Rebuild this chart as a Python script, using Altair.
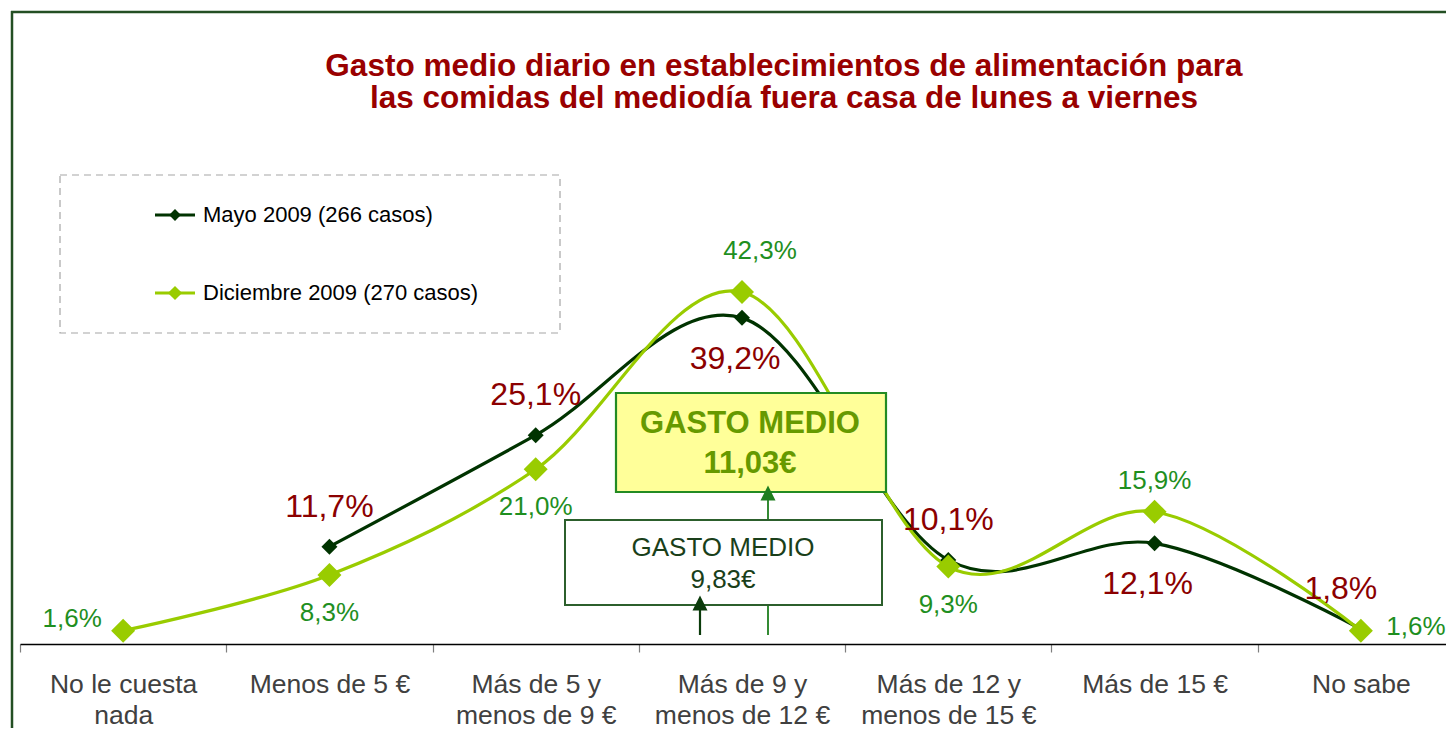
import altair as alt
import pandas as pd

# ---------------- data ----------------
categories = ["No le cuesta nada", "Menos de 5 €", "Más de 5 y menos de 9 €",
              "Más de 9 y menos de 12 €", "Más de 12 y menos de 15 €",
              "Más de 15 €", "No sabe"]
series = ["Mayo 2009 (266 casos)", "Diciembre 2009 (270 casos)"]
mayo = [None, 11.7, 25.1, 39.2, 10.1, 12.1, 1.8]
diciembre = [1.6, 8.3, 21.0, 42.3, 9.3, 15.9, 1.6]
title_lines = ["Gasto medio diario en establecimientos de alimentación para",
               "las comidas del mediodía fuera casa de lunes a viernes"]
gasto_dic = ["GASTO MEDIO", "11,03€"]
gasto_mayo = ["GASTO MEDIO", "9,83€"]

# where each value label sits relative to its point
mayo_place = [None, "N", "N", "S", "N", "S", "NW"]
dic_place = ["W", "S", "S", "NE", "S", "N", "E"]

# ---------------- styles ----------------
FONT = "Liberation Sans"
MAYO_C = "#003300"
DIC_C = "#99CC00"
MAYO_LBL = "#8B0000"
DIC_LBL = "#1F8F1F"
TITLE_C = "#990000"
FRAME_C = "#234F23"

offsets = {
    series[0]: {"N": (0, -40), "S": (-7, 41), "NW": (-20, -40)},
    series[1]: {"W": (-51, -12), "S": (0, 38), "NE": (18, -41), "N": (0, -31), "E": (55, -4)},
}
label_size = {series[0]: 32, series[1]: 26}
label_color = {series[0]: MAYO_LBL, series[1]: DIC_LBL}

rows = []
for i, c in enumerate(categories):
    if mayo[i] is not None:
        rows.append({"category": c, "series": series[0], "value": mayo[i], "place": mayo_place[i]})
    rows.append({"category": c, "series": series[1], "value": diciembre[i], "place": dic_place[i]})
df = pd.DataFrame(rows)

one = pd.DataFrame({"k": [0]})

xenc = alt.X(
    "category:N", sort=categories,
    scale=alt.Scale(type="band", paddingInner=0, paddingOuter=0, range=[0, 1444]),
    axis=alt.Axis(
        title=None, labelAngle=0, labelFont=FONT, labelFontSize=26.5,
        labelColor="#404040", labelLineHeight=31, labelPadding=19,
        labelLimit=500, labelOverlap=False, labelFlush=False,
        tickBand="extent", tickSize=8, tickColor="#7F7F7F", tickWidth=1.2,
        domainColor="#000000", domainWidth=1.6,
        labelExpr="!isString(datum.value) ? '' : "
                  "datum.value == 'No le cuesta nada' ? ['No le cuesta', 'nada'] : "
                  "split(replace(datum.value, ' y menos', ' y|menos'), '|')",
    ),
)
yenc = alt.Y("value:Q", scale=alt.Scale(domain=[0, 75]), axis=None)

base = alt.Chart(df).encode(x=xenc, y=yenc)

layers = []

# frame
layers.append(alt.Chart(one).mark_rule(color=FRAME_C, strokeWidth=2.5).encode(
    x=alt.value(-8), y=alt.value(-9), y2=alt.value(720)))
layers.append(alt.Chart(one).mark_rule(color=FRAME_C, strokeWidth=2.5).encode(
    x=alt.value(-9), x2=alt.value(1440), y=alt.value(-8)))

# title
for line, ty in zip(title_lines, [56, 88]):
    layers.append(alt.Chart(one).mark_text(
        font=FONT, fontSize=31.5, fontWeight="bold", color=TITLE_C, align="center",
        baseline="alphabetic").encode(
        x=alt.value(764), y=alt.value(ty), text=alt.value(line)))

# legend (drawn)
layers.append(alt.Chart(one).mark_rect(
    fill="#FFFFFF", fillOpacity=0, stroke="#A6A6A6", strokeDash=[7, 5], strokeWidth=1.2).encode(
    x=alt.value(40), x2=alt.value(540), y=alt.value(155), y2=alt.value(313)))
for s, col, ly, sz in [(series[0], MAYO_C, 195, 140), (series[1], DIC_C, 273, 200)]:
    layers.append(alt.Chart(one).mark_rule(color=col, strokeWidth=3).encode(
        x=alt.value(135), x2=alt.value(175), y=alt.value(ly)))
    layers.append(alt.Chart(one).mark_point(shape="diamond", filled=True, opacity=1,
                                            color=col, size=sz).encode(
        x=alt.value(155), y=alt.value(ly)))
    layers.append(alt.Chart(one).mark_text(font=FONT, fontSize=22, color="#000000",
                                           align="left", baseline="middle").encode(
        x=alt.value(183), y=alt.value(ly), text=alt.value(s)))

# lines & points
for s, col in [(series[0], MAYO_C), (series[1], DIC_C)]:
    layers.append(base.transform_filter(alt.datum.series == s).mark_line(
        color=col, strokeWidth=3.2, interpolate="cardinal"))
for s, col, sz in [(series[0], MAYO_C, 256), (series[1], DIC_C, 576)]:
    layers.append(base.transform_filter(alt.datum.series == s).mark_point(
        shape="diamond", filled=True, opacity=1, color=col, size=sz))

# arrows (shafts)
layers.append(alt.Chart(one).mark_rule(color="#0B3B0B", strokeWidth=2.2).encode(
    x=alt.value(680), y=alt.value(615), y2=alt.value(588)))
layers.append(alt.Chart(one).mark_rule(color="#1E7E1E", strokeWidth=1.8).encode(
    x=alt.value(748), y=alt.value(615), y2=alt.value(478)))

# boxes
layers.append(alt.Chart(one).mark_rect(fill="#FFFFFF", stroke="#2C5F2C", strokeWidth=2).encode(
    x=alt.value(545), x2=alt.value(862), y=alt.value(500), y2=alt.value(585)))
layers.append(alt.Chart(one).mark_rect(fill="#FFFF99", stroke="#238B23", strokeWidth=2.2).encode(
    x=alt.value(596), x2=alt.value(866), y=alt.value(373), y2=alt.value(472)))

# arrow heads
head = "M0,-1L1,1L-1,1Z"
layers.append(alt.Chart(one).mark_point(shape=head, filled=True, opacity=1, color="#0B3B0B",
                                        size=225).encode(x=alt.value(680), y=alt.value(583)))
layers.append(alt.Chart(one).mark_point(shape=head, filled=True, opacity=1, color="#1E7E1E",
                                        size=225).encode(x=alt.value(748), y=alt.value(473)))

# box texts
layers.append(alt.Chart(one).mark_text(font=FONT, fontSize=31, fontWeight="bold",
                                       color="#669900", align="center", baseline="middle",
                                       lineHeight=40).encode(
    x=alt.value(730), y=alt.value(404), text=alt.value(gasto_dic)))
layers.append(alt.Chart(one).mark_text(font=FONT, fontSize=26, color="#1A3F1A",
                                       align="center", baseline="middle",
                                       lineHeight=32).encode(
    x=alt.value(703), y=alt.value(528), text=alt.value(gasto_mayo)))

# value labels
for s in series:
    for place, (dx, dy) in offsets[s].items():
        layers.append(
            base.transform_filter((alt.datum.series == s) & (alt.datum.place == place))
            .transform_calculate(lbl="replace(format(datum.value, '.1f'), '.', ',') + '%'")
            .mark_text(font=FONT, fontSize=label_size[s], color=label_color[s],
                       align="center", baseline="middle", dx=dx, dy=dy)
            .encode(text="lbl:N")
        )

chart = alt.layer(*layers).properties(
    width=1426, height=624,
    autosize=alt.AutoSizeParams(type="none"),
    padding={"left": 12, "top": 12, "right": 0, "bottom": 84},
    background="#FFFFFF",
).configure_view(stroke=None)

chart.save("out.html", embed_options={"renderer": "svg", "actions": False})
